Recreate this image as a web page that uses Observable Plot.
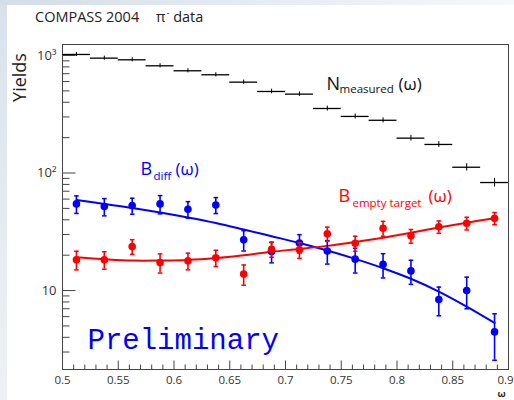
<!DOCTYPE html>
<html><head><meta charset="utf-8">
<script src="https://cdn.jsdelivr.net/npm/d3@7"></script>
<script src="https://cdn.jsdelivr.net/npm/@observablehq/plot@0.6"></script>
<style>
html,body{margin:0;padding:0;}
body{width:514px;height:400px;overflow:hidden;position:relative;
 background:linear-gradient(to right,#d3dde8 0%,#e4eaf1 45%,#f6f8fa 100%);}
#strip{position:absolute;left:0;top:5px;width:7px;bottom:0;background:linear-gradient(to bottom,#d9e2eb,#eef2f6);}
#panel{position:absolute;left:7px;top:5px;right:0;bottom:0;background:#fff;}
#chart{position:absolute;left:0;top:0;width:514px;}
#title{height:30px;position:relative;font-family:"Open Sans",sans-serif;font-size:14.5px;color:#222;}
#title span.t{position:absolute;top:10px;line-height:1;}
#title .sup{font-size:9px;position:relative;top:-6px;margin-left:1px;}
svg{display:block;}
</style></head>
<body>
<div id="strip"></div><div id="panel"></div>
<div id="chart"><div id="title"><span class="t" style="left:35px">COMPASS 2004</span><span class="t" style="left:156px">π<span class="sup">-</span> data</span></div></div>
<script>
// ---- data ----
const omega = [0.5125,0.5375,0.5625,0.5875,0.6125,0.6375,0.6625,0.6875,0.7125,0.7375,0.7625,0.7875,0.8125,0.8375,0.8625,0.8875];
const binLow = [0.5,0.525,0.55,0.575,0.6,0.625,0.65,0.675,0.7,0.725,0.75,0.775,0.8,0.825,0.85,0.875];
const binHigh = [0.525,0.55,0.575,0.6,0.625,0.65,0.675,0.7,0.725,0.75,0.775,0.8,0.825,0.85,0.875,0.9];
const nMeasured = [1020,949,919,817,741,685,593,494,469,354,303,281,198,175,112,83];
const nMeasuredErr = [40,38,37,33,30,28,25,22,21,17,15,14,11,10,8,7];
const bDiff = [54.6,51.9,52.8,54.6,49.2,53.5,27.0,21.5,25.4,21.7,18.5,16.7,14.7,8.4,10.0,4.45];
const bDiffErr = [9.3,8.7,8.2,9.7,7.9,8.3,5.3,4.3,4.5,4.9,4.4,3.9,3.4,2.3,3.0,1.9];
const bEmpty = [18.3,18.3,23.7,17.3,17.9,19.0,13.8,22.4,22.2,30.4,25.3,33.9,29.2,34.9,37.4,41.2];
const bEmptyErr = [3.3,3.1,3.4,3.2,2.9,3.0,2.7,3.2,3.4,4.2,3.7,4.9,3.9,4.2,4.6,4.9];
const fitDiff = [59.0,54.6,50.5,46.2,41.9,37.6,33.1,29.0,25.4,21.9,18.6,15.5,12.6,9.8,7.3,5.3];
const fitEmpty = [19.2,18.5,18.0,18.0,18.2,18.9,20.0,21.4,22.6,24.0,25.9,28.2,31.0,34.4,37.8,41.3];
const xTickValues = [0.5,0.55,0.6,0.65,0.7,0.75,0.8,0.85,0.9];
const xTickLabels = ["0.5","0.55","0.6","0.65","0.7","0.75","0.8","0.85","0.9"];
const xMinorTicks = [0.51,0.52,0.53,0.54,0.56,0.57,0.58,0.59,0.61,0.62,0.63,0.64,0.66,0.67,0.68,0.69,0.71,0.72,0.73,0.74,0.76,0.77,0.78,0.79,0.81,0.82,0.83,0.84,0.86,0.87,0.88,0.89];
const yTickValues = [10,100,1000];
const yTickLabels = ["10","10²","10³"];
const yMinorTicks = [3,4,5,6,7,8,9,20,30,40,50,60,70,80,90,200,300,400,500,600,700,800,900];
// annotation anchors (data coordinates)
const labelN = [{w:0.7368, v:513}];
const labelDiff = [{w:0.5700, v:95.3}];
const labelEmpty = [{w:0.7475, v:56.5}];

// ---- tables ----
const nData = omega.map((w,i)=>({w, lo:binLow[i], hi:binHigh[i], n:nMeasured[i], e:nMeasuredErr[i]}));
const pts = omega.map((w,i)=>({w, d:bDiff[i], de:bDiffErr[i], m:bEmpty[i], me:bEmptyErr[i], fd:fitDiff[i], fm:fitEmpty[i]}));
const xTicksInner = xTickValues.slice(0, -1);
const xTickLast = xTickValues.slice(-1);

const BLUE = "#0000ff", RED = "#ff0000", AX = "#444";
const len = s => Math.sqrt(s/Math.PI);
const tickUp = {draw(c,s){const l=len(s); c.moveTo(0,0); c.lineTo(0,-l);}};
const tickRight = {draw(c,s){const l=len(s); c.moveTo(0,0); c.lineTo(l,0);}};
const cap = {draw(c,s){const l=len(s); c.moveTo(-l,0); c.lineTo(l,0);}};
const F = "Open Sans";

const plot = Plot.plot({
  width: 514, height: 370,
  marginLeft: 62, marginRight: 6, marginTop: 14, marginBottom: 31,
  x: {domain:[0.5,0.9], axis:null},
  y: {type:"log", domain:[2.13,1240], axis:null},
  style: {background:"transparent", fontFamily:F},
  marks: [
    // axes ticks
    Plot.dot(xMinorTicks, {x:d=>d, frameAnchor:"bottom", symbol:tickUp, r:5, fill:"none", stroke:AX, strokeWidth:1}),
    Plot.dot(xTickValues, {x:d=>d, frameAnchor:"bottom", symbol:tickUp, r:9, fill:"none", stroke:AX, strokeWidth:1}),
    Plot.dot(yMinorTicks, {y:d=>d, frameAnchor:"left", symbol:tickRight, r:7, fill:"none", stroke:AX, strokeWidth:1}),
    Plot.dot(yTickValues, {y:d=>d, frameAnchor:"left", symbol:tickRight, r:13, fill:"none", stroke:AX, strokeWidth:1}),
    Plot.text(xTicksInner, {x:d=>d, text:(d,i)=>xTickLabels[i], frameAnchor:"bottom", dy:10.5, lineAnchor:"middle", fontSize:11.5, fill:"#333"}),
    Plot.text(xTickLast, {x:d=>d, text:()=>xTickLabels[xTickLabels.length-1], frameAnchor:"bottom", dx:-3, dy:10.5, lineAnchor:"middle", fontSize:11.5, fill:"#333"}),
    Plot.text(yTickValues, {y:d=>d, text:(d,i)=>yTickLabels[i], frameAnchor:"left", dx:-6, textAnchor:"end", lineAnchor:"middle", fontSize:13, fill:"#333"}),
    Plot.text(["Yields"], {frameAnchor:"top-left", dx:-42, dy:33, rotate:-90, textAnchor:"middle", lineAnchor:"middle", fontSize:18, fill:"#222"}),
    Plot.text(["ω"], {frameAnchor:"bottom-right", dx:-7, dy:24.7, textAnchor:"middle", lineAnchor:"middle", fontSize:9.5, fontWeight:"bold", fill:"#222"}),
    Plot.frame({stroke:AX, strokeWidth:1}),
    // N measured
    Plot.ruleY(nData, {x1:"lo", x2:"hi", y:"n", stroke:"#000", strokeWidth:1.3}),
    Plot.ruleX(nData, {x:"w", y1:d=>d.n-d.e, y2:d=>d.n+d.e, stroke:"#000", strokeWidth:1}),
    // fits
    Plot.line(pts, {x:"w", y:"fd", stroke:BLUE, strokeWidth:2, curve:"catmull-rom"}),
    Plot.line(pts, {x:"w", y:"fm", stroke:RED, strokeWidth:2, curve:"catmull-rom"}),
    // B diff
    Plot.ruleX(pts, {x:"w", y1:d=>d.d-d.de, y2:d=>d.d+d.de, stroke:BLUE, strokeWidth:1.6}),
    Plot.dot(pts, {x:"w", y:d=>d.d-d.de, symbol:cap, r:2.3, fill:"none", stroke:BLUE, strokeWidth:1.5}),
    Plot.dot(pts, {x:"w", y:d=>d.d+d.de, symbol:cap, r:2.3, fill:"none", stroke:BLUE, strokeWidth:1.5}),
    Plot.dot(pts, {x:"w", y:"d", r:3.8, fill:BLUE, stroke:"none"}),
    // B empty target
    Plot.ruleX(pts, {x:"w", y1:d=>d.m-d.me, y2:d=>d.m+d.me, stroke:RED, strokeWidth:1.6}),
    Plot.dot(pts, {x:"w", y:d=>d.m-d.me, symbol:cap, r:2.3, fill:"none", stroke:RED, strokeWidth:1.5}),
    Plot.dot(pts, {x:"w", y:d=>d.m+d.me, symbol:cap, r:2.3, fill:"none", stroke:RED, strokeWidth:1.5}),
    Plot.dot(pts, {x:"w", y:"m", r:3.8, fill:RED, stroke:"none"}),
    // labels
    Plot.text(labelN, {x:"w", y:"v", text:()=>"N", textAnchor:"start", lineAnchor:"bottom", fontSize:18, fill:"#111"}),
    Plot.text(labelN, {x:"w", y:"v", text:()=>"measured", textAnchor:"start", lineAnchor:"bottom", dx:13, dy:3, fontSize:11.5, fill:"#111"}),
    Plot.text(labelN, {x:"w", y:"v", text:()=>"(ω)", textAnchor:"start", lineAnchor:"bottom", dx:72, fontSize:17, fill:"#111"}),
    Plot.text(labelDiff, {x:"w", y:"v", text:()=>"B", textAnchor:"start", lineAnchor:"bottom", fontSize:18, fill:BLUE}),
    Plot.text(labelDiff, {x:"w", y:"v", text:()=>"diff", textAnchor:"start", lineAnchor:"bottom", dx:13, dy:5, fontSize:11.5, fill:BLUE}),
    Plot.text(labelDiff, {x:"w", y:"v", text:()=>"(ω)", textAnchor:"start", lineAnchor:"bottom", dx:35, fontSize:17, fill:BLUE}),
    Plot.text(labelEmpty, {x:"w", y:"v", text:()=>"B", textAnchor:"start", lineAnchor:"bottom", fontSize:18, fill:RED}),
    Plot.text(labelEmpty, {x:"w", y:"v", text:()=>"empty target", textAnchor:"start", lineAnchor:"bottom", dx:14, dy:5, fontSize:11.5, fill:RED}),
    Plot.text(labelEmpty, {x:"w", y:"v", text:()=>"(ω)", textAnchor:"start", lineAnchor:"bottom", dx:90, fontSize:17, fill:RED}),
    Plot.text(["Preliminary"], {frameAnchor:"bottom-left", dx:25, dy:-21, textAnchor:"start", lineAnchor:"bottom", fontSize:29, fontFamily:"Liberation Mono", fill:BLUE})
  ]
});
document.getElementById("chart").appendChild(plot);
</script>
</body></html>
